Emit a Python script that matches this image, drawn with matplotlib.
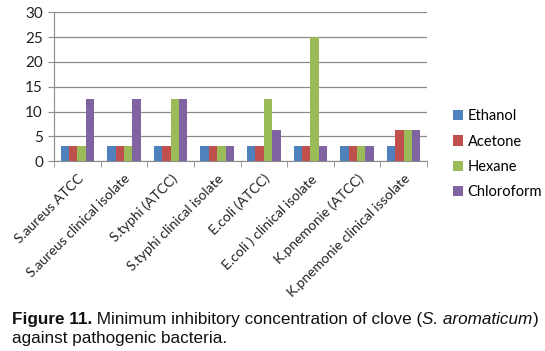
import matplotlib
matplotlib.use("Agg")
import matplotlib.pyplot as plt
import numpy as np

categories = ["S.aureus ATCC", "S.aureus clinical isolate", "S.typhi (ATCC)",
              "S.typhi clinical isolate", "E.coli (ATCC)", "E.coli ) clinical isolate",
              "K.pnemonie (ATCC)", "K.pnemonie clinical issolate"]
series_names = ["Ethanol", "Acetone", "Hexane", "Chloroform"]
ethanol = [3.125, 3.125, 3.125, 3.125, 3.125, 3.125, 3.125, 3.125]
acetone = [3.125, 3.125, 3.125, 3.125, 3.125, 3.125, 3.125, 6.25]
hexane = [3.125, 3.125, 12.5, 3.125, 12.5, 25, 3.125, 6.25]
chloroform = [12.5, 12.5, 12.5, 3.125, 6.25, 3.125, 3.125, 6.25]
yticks = [0, 5, 10, 15, 20, 25, 30]
colors = ["#4F81BD", "#C0504D", "#9BBB59", "#8064A2"]

plt.rcParams['font.family'] = ['Lato', 'DejaVu Sans']

fig = plt.figure(figsize=(5.45, 3.51), dpi=100)
W, H = 545, 351
ax = fig.add_axes([54 / W, 1 - 161.3 / H, (427 - 54) / W, (161.3 - 12.3) / H])

x = np.arange(len(categories))
bw = 0.18
data = [ethanol, acetone, hexane, chloroform]
for i, (name, vals) in enumerate(zip(series_names, data)):
    ax.bar(x + (i - 1.5) * bw, vals, width=bw, color=colors[i], label=name, zorder=3)

ax.set_xlim(-0.5, len(categories) - 0.5)
ax.set_ylim(0, 30)
ax.set_yticks(yticks)
ax.set_yticklabels([str(t) for t in yticks], fontsize=11, color="#222222")
ax.yaxis.grid(True, color="#8c8c8c", linewidth=0.9, zorder=0)
for s in ["top", "right"]:
    ax.spines[s].set_visible(False)
for s in ["left", "bottom"]:
    ax.spines[s].set_color("#8c8c8c")
ax.tick_params(axis="y", length=4, color="#8c8c8c", pad=4)
ax.set_xticks(x)
ax.set_xticklabels(categories, rotation=45, ha="right", va="top", rotation_mode="anchor",
                   fontsize=10, color="#222222")
ax.tick_params(axis="x", length=0, pad=8)
ax.set_xticks(np.arange(-0.5, len(categories), 1.0), minor=True)
ax.tick_params(axis="x", which="minor", length=4, color="#8c8c8c")

leg = fig.legend(loc="upper left", bbox_to_anchor=(440 / W, 1 - 96 / H), frameon=False,
                 fontsize=10.5, handlelength=0.7, handleheight=0.7, handletextpad=0.3,
                 labelspacing=0.78)

# Caption
fig.canvas.draw()
r = fig.canvas.get_renderer()
y1 = 1 - 324 / H
y2 = 1 - 343 / H
fs = 12.3
cap_font = ['Liberation Sans', 'DejaVu Sans']
parts = [("Figure 11.", "bold", "normal"),
         (" Minimum inhibitory concentration of clove (", "normal", "normal"),
         ("S. aromaticum", "normal", "italic"),
         (")", "normal", "normal")]
xpos = 12 / W
for txt, wt, st in parts:
    t = fig.text(xpos, y1, txt, fontsize=fs, fontweight=wt, fontstyle=st, family=cap_font,
                 ha="left", va="baseline", color="#111111")
    bb = t.get_window_extent(renderer=r)
    xpos += bb.width / W
fig.text(12 / W, y2, "against pathogenic bacteria.", fontsize=fs, family=cap_font,
         ha="left", va="baseline", color="#111111")

fig.savefig("out.png", dpi=100)
